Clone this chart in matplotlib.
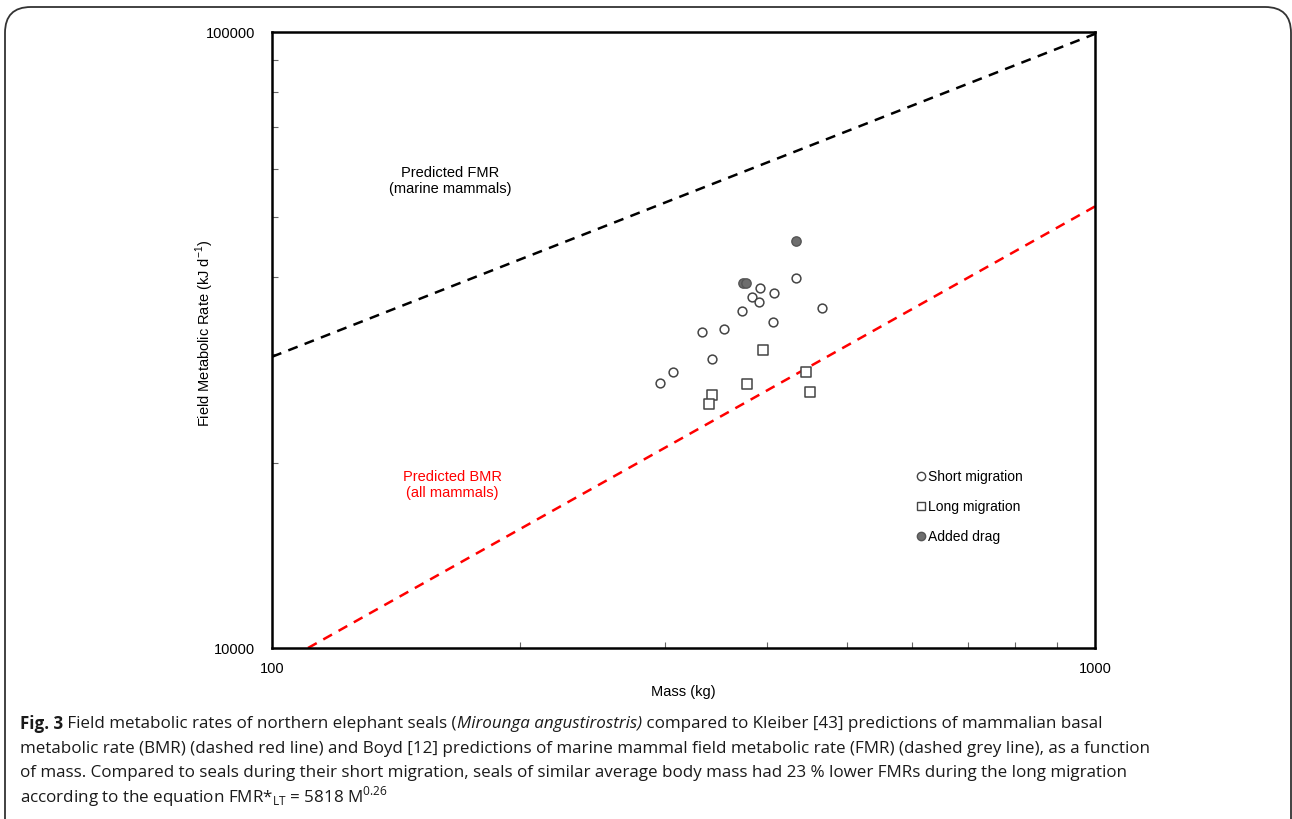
import matplotlib
matplotlib.use("Agg")
import matplotlib.pyplot as plt
from matplotlib.patches import FancyBboxPatch
from matplotlib.lines import Line2D
from matplotlib.ticker import FixedLocator, NullFormatter, FixedFormatter

# short migration seals (mass kg, FMR kJ/d)
short_mass = [296, 307, 333, 354, 342, 372, 383, 391, 392, 407, 406, 433, 466]
short_fmr = [26960, 28090, 32540, 32950, 29450, 35280, 37190, 36410, 38410, 37740, 33860, 39920, 35600]

# long migration seals
long_mass = [395, 342, 340, 378, 445, 450]
long_fmr = [30500, 25750, 24890, 26800, 28090, 26070]

# added drag seals
drag_mass = [433, 373, 377]
drag_fmr = [45730, 39170, 39130]

# prediction lines (end points)
fmr_pred_mass = [100, 1000]
fmr_pred_rate = [29700, 99300]
bmr_pred_mass = [110.6, 1000]
bmr_pred_rate = [10000, 52100]

W, H = 1292, 819
fig = plt.figure(figsize=(W / 100, H / 100), dpi=100)
plt.rcParams['font.family'] = ['Liberation Sans', 'DejaVu Sans']

# rounded frame round the whole figure
frame = FancyBboxPatch((5 / W, -0.05), (1286 / W), 1 - 7 / H + 0.05,
                       boxstyle="round,pad=0,rounding_size=0.02",
                       transform=fig.transFigure, fill=False,
                       edgecolor='#333333', linewidth=1.3, mutation_aspect=W / H)
fig.patches.append(frame)

ax = fig.add_axes([272 / W, 1 - 648 / H, 823 / W, 616 / H])
ax.set_xscale('log')
ax.set_yscale('log')
ax.set_xlim(100, 1000)
ax.set_ylim(10000, 100000)

ax.plot(fmr_pred_mass, fmr_pred_rate, color='black', linestyle=(0, (4, 3)), linewidth=1.8)
ax.plot(bmr_pred_mass, bmr_pred_rate, color='red', linestyle=(0, (4, 3)), linewidth=1.8)

ax.scatter(short_mass, short_fmr, s=40, marker='o', facecolors='white', edgecolors='#444444', linewidths=1.1, zorder=3)
ax.scatter(long_mass, long_fmr, s=55, marker='s', facecolors='white', edgecolors='#444444', linewidths=1.1, zorder=3)
ax.scatter(drag_mass, drag_fmr, s=45, marker='o', facecolors='#6e6e6e', edgecolors='#555555', linewidths=1.0, zorder=3)

for sp in ax.spines.values():
    sp.set_linewidth(1.8)

ax.xaxis.set_major_locator(FixedLocator([100, 1000]))
ax.xaxis.set_major_formatter(FixedFormatter(['100', '1000']))
ax.xaxis.set_minor_locator(FixedLocator([200, 300, 400, 500, 600, 700, 800, 900]))
ax.xaxis.set_minor_formatter(NullFormatter())
ax.yaxis.set_major_locator(FixedLocator([10000, 100000]))
ax.yaxis.set_major_formatter(FixedFormatter(['10000', '100000']))
ax.yaxis.set_minor_locator(FixedLocator([20000, 30000, 40000, 50000, 60000, 70000, 80000, 90000]))
ax.yaxis.set_minor_formatter(NullFormatter())
ax.tick_params(which='major', length=0, labelsize=10.5)
ax.tick_params(axis='x', which='major', pad=10)
ax.tick_params(axis='y', which='major', pad=12)
ax.tick_params(which='minor', direction='in', length=4, width=0.8, color='#666666')

ax.set_xlabel('Mass (kg)', fontsize=10.5)
ax.set_ylabel('Field Metabolic Rate (kJ d$^{\\mathregular{-1}}$)', fontsize=10.5)
ax.xaxis.set_label_coords(0.5, -0.060)
ax.yaxis.set_label_coords(-0.068, 0.51)

ax.text(0.216, 0.758, 'Predicted FMR\n(marine mammals)', transform=ax.transAxes,
        ha='center', va='center', fontsize=10.5, color='black', linespacing=1.2)
ax.text(0.219, 0.265, 'Predicted BMR\n(all mammals)', transform=ax.transAxes,
        ha='center', va='center', fontsize=10.5, color='red', linespacing=1.2)

handles = [
    Line2D([], [], marker='o', linestyle='none', markersize=6, markerfacecolor='white', markeredgecolor='#444444'),
    Line2D([], [], marker='s', linestyle='none', markersize=6, markerfacecolor='white', markeredgecolor='#444444'),
    Line2D([], [], marker='o', linestyle='none', markersize=6, markerfacecolor='#6e6e6e', markeredgecolor='#555555'),
]
ax.legend(handles, ['Short migration', 'Long migration', 'Added drag'], loc='upper left',
          bbox_to_anchor=(0.7765, 0.298), frameon=False, fontsize=10, handlelength=0.6,
          handletextpad=0.2, labelspacing=1.15, borderaxespad=0)

# caption, built piece by piece so bold / italic fit in the line
cap_size = 12.25
cap_font = ['Open Sans', 'DejaVu Sans']
lines = [
    [('Fig. 3', 'bold', 'normal'), (' Field metabolic rates of northern elephant seals (', 'normal', 'normal'),
     ('Mirounga angustirostris)', 'normal', 'italic'),
     (' compared to Kleiber [43] predictions of mammalian basal', 'normal', 'normal')],
    [('metabolic rate (BMR) (dashed red line) and Boyd [12] predictions of marine mammal field metabolic rate (FMR) (dashed grey line), as a function', 'normal', 'normal')],
    [('of mass. Compared to seals during their short migration, seals of similar average body mass had 23 % lower FMRs during the long migration', 'normal', 'normal')],
    [('according to the equation FMR*$_{\\mathregular{LT}}$ = 5818 M$^{\\mathregular{0.26}}$', 'normal', 'normal')],
]
line_y = [724, 749, 773, 797]
renderer = fig.canvas.get_renderer()
for parts, py in zip(lines, line_y):
    px = 20
    for txt, wt, st in parts:
        t = fig.text(px / W, 1 - py / H, txt, fontsize=cap_size, family=cap_font,
                     fontweight=wt, fontstyle=st, va='center', ha='left', color='#1a1a1a')
        bb = t.get_window_extent(renderer=renderer)
        px += bb.width

fig.savefig('out.png', dpi=100)
